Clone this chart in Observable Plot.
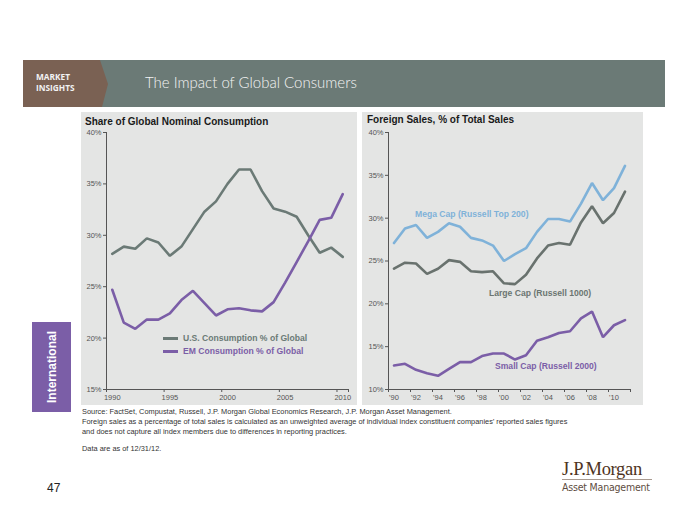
<!DOCTYPE html>
<html><head><meta charset="utf-8">
<script src="https://cdn.jsdelivr.net/npm/d3@7"></script>
<script src="https://cdn.jsdelivr.net/npm/@observablehq/plot@0.6"></script>
<style>
body{margin:0;width:700px;height:525px;position:relative;background:#fff;font-family:"Liberation Sans",Arial,sans-serif;overflow:hidden}
.abs{position:absolute;white-space:nowrap}
.panel{position:absolute;background:#e4e5e4}
.ptitle{position:absolute;font-weight:bold;font-size:10px;color:#1a1a1a}
.lbl{position:absolute;font-weight:bold;font-size:8.6px;white-space:nowrap;line-height:1}
.foot{position:absolute;left:82px;font-size:7.4px;color:#333;white-space:nowrap;line-height:1}
</style></head><body>
<svg class="abs" style="left:0;top:0" width="700" height="120">
  <rect x="23" y="60" width="642" height="47" fill="#6b7a76"/>
  <polygon points="23,60 100,60 108,84 102,107 23,107" fill="#7a6153"/>
  <text x="36" y="80" fill="#f2f2f2" font-size="8.3" font-weight="bold" font-family="Open Sans, Liberation Sans">MARKET</text>
  <text x="36" y="91" fill="#f2f2f2" font-size="8.3" font-weight="bold" font-family="Open Sans, Liberation Sans">INSIGHTS</text>
  <text x="145" y="88" fill="#f4f4f4" font-size="15" font-weight="300" font-family="Lato, Open Sans">The Impact of Global Consumers</text>
</svg>

<div class="panel" style="left:81px;top:112px;width:276px;height:293px"></div>
<div class="panel" style="left:362px;top:112px;width:281px;height:293px"></div>
<div class="ptitle" style="left:85px;top:116px">Share of Global Nominal Consumption</div>
<div class="ptitle" style="left:367px;top:114px">Foreign Sales, % of Total Sales</div>
<div id="left" class="abs" style="left:81px;top:112px"></div>
<div id="right" class="abs" style="left:362px;top:112px"></div>

<div class="abs" style="left:163px;top:336.5px;width:15px;height:3px;background:#6b7a76"></div>
<div class="lbl" style="left:183px;top:333.5px;color:#6b7a76">U.S. Consumption % of Global</div>
<div class="abs" style="left:163px;top:349.5px;width:15px;height:3px;background:#7b5ea7"></div>
<div class="lbl" style="left:183px;top:346.5px;color:#7b5ea7">EM Consumption % of Global</div>

<div class="lbl" style="left:415px;top:209.5px;color:#7fb2d9">Mega Cap (Russell Top 200)</div>
<div class="lbl" style="left:489px;top:288.5px;color:#6b7571">Large Cap (Russell 1000)</div>
<div class="lbl" style="left:495px;top:361.5px;color:#7b5ea7">Small Cap (Russell 2000)</div>

<div class="abs" style="left:32px;top:322px;width:39px;height:90px;background:#7b5ea7"></div>
<div class="abs" style="left:51.5px;top:367px;transform:translate(-50%,-50%) rotate(-90deg);color:#fff;font-weight:bold;font-size:12px;font-family:'Liberation Sans',Arial">International</div>

<div class="foot" style="top:408px">Source: FactSet, Compustat, Russell, J.P. Morgan Global Economics Research, J.P. Morgan Asset Management.</div>
<div class="foot" style="top:418px">Foreign sales as a percentage of total sales is calculated as an unweighted average of individual index constituent companies’ reported sales figures</div>
<div class="foot" style="top:428px">and does not capture all index members due to differences in reporting practices.</div>
<div class="foot" style="top:445px">Data are as of 12/31/12.</div>

<div class="abs" style="left:47px;top:481px;font-size:12px;color:#222">47</div>
<div class="abs" style="left:562px;top:459px;font-size:18.5px;color:#4e3322;font-family:'Liberation Serif','DejaVu Serif',serif;letter-spacing:-0.3px">J.P.Morgan</div>
<div class="abs" style="left:562px;top:479px;width:90px;height:1px;background:#a89a90"></div>
<div class="abs" style="left:562px;top:481px;font-size:10.5px;color:#5e4d42;font-family:'DejaVu Sans Condensed','Liberation Sans',sans-serif;font-stretch:condensed;letter-spacing:-0.2px">Asset Management</div>

<script>
// Left chart: Share of Global Nominal Consumption (%)
const consYears = [1990,1991,1992,1993,1994,1995,1996,1997,1998,1999,2000,2001,2002,2003,2004,2005,2006,2007,2008,2009,2010];
const usShare = [28.2,28.9,28.7,29.7,29.3,28.0,28.9,30.6,32.3,33.3,35.0,36.4,36.4,34.3,32.6,32.3,31.8,30.0,28.3,28.8,27.9];
const emShare = [24.7,21.5,20.9,21.8,21.8,22.4,23.7,24.6,23.4,22.2,22.8,22.9,22.7,22.6,23.5,25.4,27.4,29.4,31.5,31.7,34.0];
const consYTicks = [15,20,25,30,35,40];
const consXLabels = [1990,1995,2000,2005,2010];

// Right chart: Foreign Sales, % of Total Sales
const salesYears = [1990,1991,1992,1993,1994,1995,1996,1997,1998,1999,2000,2001,2002,2003,2004,2005,2006,2007,2008,2009,2010,2011];
const megaCap = [27.1,28.8,29.2,27.7,28.4,29.4,29.0,27.7,27.4,26.8,25.0,25.8,26.5,28.4,29.9,29.9,29.6,31.7,34.1,32.1,33.5,36.1];
const largeCap = [24.1,24.8,24.7,23.5,24.1,25.1,24.9,23.8,23.7,23.8,22.4,22.3,23.4,25.3,26.8,27.1,26.9,29.5,31.4,29.4,30.6,33.1];
const smallCap = [12.8,13.0,12.3,11.9,11.6,12.4,13.2,13.2,13.9,14.2,14.2,13.5,14.0,15.7,16.1,16.6,16.8,18.3,19.1,16.1,17.5,18.1];
const salesYTicks = [10,15,20,25,30,35,40];
const salesXLabels = [1990,1992,1994,1996,1998,2000,2002,2004,2006,2008,2010];

const axisColor = "#555";
const font = "'Liberation Sans', Arial, sans-serif";

const consTable = consYears.flatMap((yr, i) => [
  {year: yr, value: usShare[i], series: "US"},
  {year: yr, value: emShare[i], series: "EM"}
]);
const salesTable = salesYears.flatMap((yr, i) => [
  {year: yr, value: megaCap[i], series: "Mega"},
  {year: yr, value: largeCap[i], series: "Large"},
  {year: yr, value: smallCap[i], series: "Small"}
]);

function chart({width, marginLeft, marginRight, xDomain, yDomain, yTicks, xTickMarks, xLabels, xFmt, table, colors, order}) {
  return Plot.plot({
    width, height: 293,
    marginLeft, marginRight, marginTop: 20, marginBottom: 16,
    style: {background: "transparent", fontFamily: font, fontSize: "7.5px", color: axisColor, overflow: "visible"},
    x: {domain: xDomain},
    y: {domain: yDomain},
    color: {domain: order, range: colors},
    marks: [
      Plot.axisY(yTicks, {tickSize: 3, tickPadding: 2, tickFormat: d => d + "%", label: null, stroke: axisColor, fill: axisColor}),
      Plot.axisX(xTickMarks, {tickSize: 3, tickFormat: () => "", label: null, stroke: axisColor}),
      Plot.axisX(xLabels, {tickSize: 0, tickPadding: 5, tickFormat: xFmt, label: null, fill: axisColor}),
      Plot.ruleX([xDomain[0]], {stroke: axisColor, strokeWidth: 1}),
      Plot.ruleY([yDomain[0]], {stroke: axisColor, strokeWidth: 1}),
      Plot.line(table, {x: "year", y: "value", z: "series", stroke: "series", strokeWidth: 2.6, strokeLinejoin: "miter", curve: "linear"})
    ]
  });
}

document.getElementById("left").appendChild(chart({
  width: 276, marginLeft: 25, marginRight: 9,
  xDomain: [1989.5, 2010.5], yDomain: [15, 40], yTicks: consYTicks,
  xTickMarks: [1989.5, 1994.5, 1999.5, 2004.5, 2009.5, 2010.5],
  xLabels: consXLabels, xFmt: d => String(d),
  table: consTable, order: ["US", "EM"], colors: ["#6b7a76", "#7b5ea7"]
}));

document.getElementById("right").appendChild(chart({
  width: 281, marginLeft: 26, marginRight: 13,
  xDomain: [1989.5, 2011.5], yDomain: [10, 40], yTicks: salesYTicks,
  xTickMarks: [1989.5, 1991.5, 1993.5, 1995.5, 1997.5, 1999.5, 2001.5, 2003.5, 2005.5, 2007.5, 2009.5, 2011.5],
  xLabels: salesXLabels, xFmt: d => "'" + String(d).slice(2),
  table: salesTable, order: ["Mega", "Large", "Small"], colors: ["#7fb2d9", "#69726e", "#7b5ea7"]
}));
</script>
</body></html>
